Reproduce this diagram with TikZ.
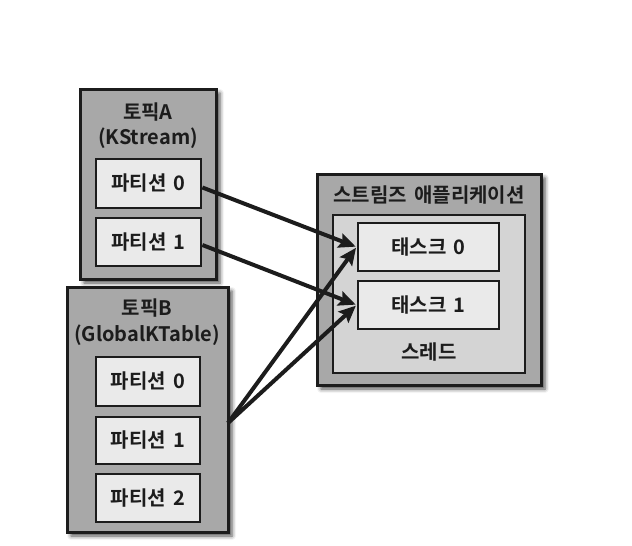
\documentclass[tikz,border=0pt]{standalone}
\usepackage{fontspec}
\setmainfont{Noto Sans CJK KR}[BoldFont={Noto Sans CJK KR Bold},WordSpace=1.6]
\usetikzlibrary{arrows.meta,shadows.blur,calc}
\definecolor{outerg}{HTML}{A8A8A8}
\definecolor{innerg}{HTML}{EAEAEA}
\definecolor{threadg}{HTML}{D4D4D4}
\definecolor{ink}{HTML}{1C1C1C}
\begin{document}
\begin{tikzpicture}[x=1pt,y=-1pt,
  outerbox/.style={draw=ink,line width=3pt,fill=outerg,
    blur shadow={shadow xshift=4pt,shadow yshift=-4pt,shadow blur radius=4pt,shadow opacity=70}},
  threadbox/.style={draw=ink,line width=2.8pt,fill=threadg},
  partbox/.style={draw=ink,line width=2.8pt,fill=innerg,font=\fontsize{20}{22}\selectfont\bfseries,text=ink},
  lbl/.style={font=\fontsize{20}{22}\selectfont\bfseries,text=ink,inner sep=0pt},
  arr/.style={draw=ink,line width=4pt,-{Stealth[length=17pt,width=15pt,inset=3pt]},shorten >=1pt}]
\useasboundingbox (0,0) rectangle (632,546);
% Topic A
\path[outerbox] (80,89) rectangle (216,279);
\node[lbl] (ta1) at (148,112) {토픽A};
\node[lbl] (ta2) at (148,138) {(KStream)};
\node[partbox,minimum width=105pt,minimum height=49pt] (ap0) at (148.5,183.5) {파티션 0};
\node[partbox,minimum width=105pt,minimum height=48pt] (ap1) at (148.5,242) {파티션 1};
% Topic B
\path[outerbox] (67,287) rectangle (228,532);
\node[lbl] (tb1) at (147,308) {토픽B};
\node[lbl] (tb2) at (147,335) {(GlobalKTable)};
\node[partbox,minimum width=104pt,minimum height=49pt] (bp0) at (148,381.5) {파티션 0};
\node[partbox,minimum width=104pt,minimum height=47pt] (bp1) at (148,440.5) {파티션 1};
\node[partbox,minimum width=104pt,minimum height=48pt] (bp2) at (148,498) {파티션 2};
% App
\path[outerbox] (317,174) rectangle (541,385);
\node[lbl] (app) at (429,195) {스트림즈 애플리케이션};
\path[threadbox] (333,215) rectangle (525,373);
\node[partbox,minimum width=141pt,minimum height=48pt] (t0) at (428.5,247) {태스크 0};
\node[partbox,minimum width=141pt,minimum height=48pt] (t1) at (428.5,305) {태스크 1};
\node[lbl] (thr) at (429,352) {스레드};
% arrows
\coordinate (bs) at (228,423);
\draw[arr] ([yshift=-4pt]ap0.east) -- (t0.west);
\draw[arr] ([yshift=-3pt]ap1.east) -- (t1.west);
\draw[arr] (bs) -- (t0.west);
\draw[arr] (bs) -- (t1.west);
\end{tikzpicture}
\end{document}
